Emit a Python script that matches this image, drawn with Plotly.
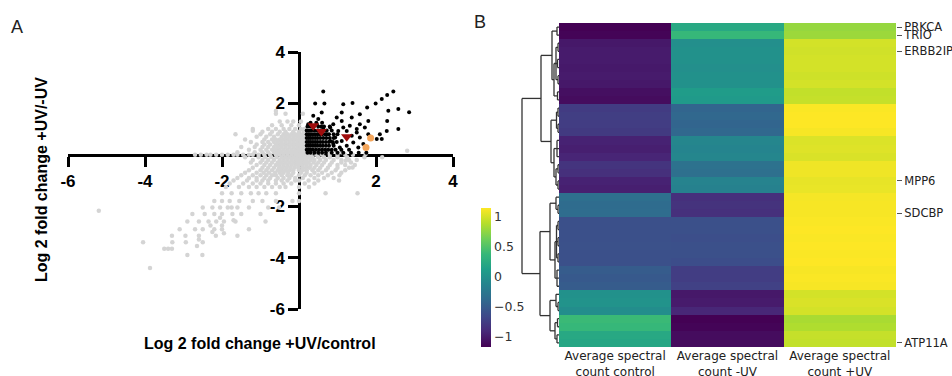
import plotly.graph_objects as go

# ---------------- Panel A data (log2 fold changes) ----------------
grey_row_y = [1.6, 1.3, 1.0, 0.8, 0.6, 0.4, 0.2, 0.0, -0.2, -0.4, -0.6, -0.8, -1.0,
              -1.25, -1.5, -1.8, -2.05, -2.3, -2.6, -2.9, -3.15, -3.4, -3.66, -3.9, -4.4]
grey_row_x = [
    [-0.6, -0.35, 0.1],
    [-0.5, -0.3, -0.15, 0.05],
    [-1.2, -0.8, -0.6, -0.4, -0.25, -0.1, 0.05, 0.15],
    [-1.65, -1.0, -0.75, -0.55, -0.4, -0.3, -0.2, -0.1, 0.0, 0.1, 0.2],
    [-1.4, -0.9, -0.7, -0.6, -0.5, -0.4, -0.3, -0.2, -0.1, 0.0, 0.1, 0.2, 0.3],
    [-1.1, -0.9, -0.75, -0.6, -0.5, -0.4, -0.3, -0.2, -0.1, 0.0, 0.1, 0.2, 0.3, 0.45],
    [-1.3, -1.0, -0.85, -0.7, -0.6, -0.5, -0.4, -0.3, -0.2, -0.1, 0.0, 0.1, 0.2, 0.35, 0.5, 0.7],
    [-2.7, -2.55, -2.4, -2.3, -2.15, -2.0, -1.85, -1.7, -1.6, -1.45, -1.3, -1.2, -1.05, -0.9,
     -0.75, -0.6, -0.5, -0.4, -0.3, -0.2, -0.1, 0.0, 0.1, 0.2, 0.3, 0.45, 0.6, 0.8, 1.0, 1.2, 1.4],
    [-1.2, -0.95, -0.8, -0.65, -0.5, -0.4, -0.3, -0.2, -0.1, 0.0, 0.1, 0.2, 0.3, 0.4, 0.55, 0.7,
     0.9, 1.1, 1.3, 1.5],
    [-1.1, -0.9, -0.75, -0.6, -0.5, -0.4, -0.3, -0.2, -0.1, 0.0, 0.1, 0.2, 0.3, 0.45, 0.6, 0.8,
     1.0, 1.2, 1.45],
    [-1.3, -1.0, -0.85, -0.7, -0.55, -0.45, -0.35, -0.25, -0.15, 0.0, 0.1, 0.2, 0.35, 0.5, 0.7,
     0.95, 1.2],
    [-1.5, -1.2, -1.0, -0.85, -0.7, -0.6, -0.45, -0.3, -0.2, 0.0, 0.15, 0.3, 0.5, 0.75, 1.05],
    [-1.7, -1.35, -1.1, -0.95, -0.8, -0.6, -0.45, -0.3, -0.1, 0.0, 0.25, 0.5, 1.04],
    [-1.9, -1.56, -1.3, -1.1, -0.9, -0.7, -0.5, -0.35, 0.0, 0.26],
    [-2.0, -1.75, -1.5, -1.25, -1.05, -0.85, -0.6, 0.0, 0.69, 1.52],
    [-2.2, -2.0, -1.8, -1.55, -1.2, -0.95, -0.6, -0.17, 0.0],
    [-2.5, -2.25, -2.05, -1.85, -1.6, -1.3, -0.8, -0.52],
    [-2.77, -2.45, -2.2, -2.0, -1.73, -1.5, -1.0],
    [-2.9, -2.6, -2.35, -2.15, -1.95, -1.65, -0.87],
    [-3.1, -2.7, -2.5, -2.2, -2.0, -1.3],
    [-3.3, -2.95, -2.6, -2.16, -1.6],
    [-4.05, -3.29, -2.94, -2.5],
    [-3.5, -3.4, -3.3],
    [-2.51, -2.9],
    [-3.87],
]
# dense core of the grey cloud (between the rows above)
grey_core_y = [1.15, 0.9, 0.7, 0.5, 0.3, 0.1, -0.1, -0.3, -0.5, -0.7, -0.9, -1.12]
grey_core_x = [
    [-0.7, -0.45, -0.2, 0.0],
    [-0.95, -0.7, -0.5, -0.35, -0.15, 0.0, 0.12],
    [-1.1, -0.85, -0.65, -0.45, -0.35, -0.25, -0.15, -0.05, 0.05, 0.15, 0.25],
    [-1.25, -0.95, -0.8, -0.65, -0.55, -0.45, -0.35, -0.25, -0.15, -0.05, 0.05, 0.15, 0.25, 0.4],
    [-1.5, -1.15, -0.95, -0.8, -0.65, -0.55, -0.45, -0.35, -0.25, -0.15, -0.05, 0.05, 0.15, 0.25,
     0.4, 0.6],
    [-1.6, -1.15, -0.95, -0.8, -0.65, -0.55, -0.45, -0.35, -0.25, -0.15, -0.05, 0.05, 0.15, 0.25,
     0.4, 0.55, 0.8, 1.1],
    [-1.4, -1.05, -0.88, -0.72, -0.58, -0.45, -0.35, -0.25, -0.15, -0.05, 0.05, 0.15, 0.25, 0.35,
     0.5, 0.65, 0.8, 1.0, 1.25, 1.7],
    [-1.25, -1.0, -0.85, -0.7, -0.55, -0.45, -0.35, -0.25, -0.15, -0.05, 0.05, 0.15, 0.25, 0.38,
     0.5, 0.65, 0.85, 1.1, 1.35],
    [-1.2, -0.95, -0.8, -0.65, -0.52, -0.42, -0.32, -0.22, -0.12, -0.02, 0.08, 0.18, 0.28, 0.4,
     0.55, 0.75, 1.0, 1.3],
    [-1.4, -1.1, -0.92, -0.78, -0.62, -0.5, -0.4, -0.28, -0.15, 0.05, 0.2, 0.4, 0.6, 0.85, 1.1],
    [-1.6, -1.3, -1.1, -0.9, -0.75, -0.55, -0.4, -0.25, -0.1, 0.1, 0.4, 0.65, 0.9],
    [-1.8, -1.45, -1.2, -1.0, -0.8, -0.6, -0.4, -0.2, 0.15, 0.4],
]
grey_extra_x = [-5.2, 2.81, 2.16, 1.73, 1.39, 1.21, -1.2, -0.6, -2.05, -2.0, -1.95, -2.3, -2.25,
                -1.7, -1.75, -2.6, -2.65]
grey_extra_y = [-2.18, 0.16, -0.1, 0.03, -0.49, -0.23, 0.94, 1.7, -2.45, -2.75, -3.05, -2.75,
                -3.0, -2.55, -2.05, -3.3, -3.55]

black_row_y = [1.25, 1.1, 0.95, 0.8, 0.65, 0.5, 0.35, 0.2, 0.08]
black_row_x = [
    [0.3, 0.45, 0.6],
    [0.22, 0.3, 0.38, 0.5, 0.58, 0.65, 0.8],
    [0.2, 0.26, 0.32, 0.4, 0.48, 0.56, 0.64, 0.72, 0.85],
    [0.2, 0.25, 0.3, 0.36, 0.42, 0.48, 0.54, 0.6, 0.68, 0.78, 0.9, 1.0],
    [0.2, 0.25, 0.3, 0.36, 0.42, 0.48, 0.55, 0.63, 0.71, 0.8, 0.9],
    [0.2, 0.25, 0.3, 0.36, 0.42, 0.48, 0.55, 0.62, 0.7, 0.78, 0.88, 0.98],
    [0.2, 0.25, 0.3, 0.36, 0.42, 0.48, 0.55, 0.62, 0.7, 0.78, 0.9],
    [0.2, 0.25, 0.3, 0.36, 0.44, 0.52, 0.6, 0.68, 0.76, 0.85, 0.95, 1.1, 1.3],
    [0.22, 0.3, 0.4, 0.5, 0.6, 0.7, 0.85, 1.0, 1.15, 1.35, 1.55, 1.75],
]
black_sparse_x = [0.63, 0.42, 0.66, 1.15, 1.39, 1.77, 1.99, 2.15, 2.29, 2.45, 2.32, 2.58, 2.86,
                  2.29, 2.58, 2.28, 2.10, 2.15, 2.02, 1.58, 1.80, 1.58, 1.37, 1.11, 1.11, 0.98,
                  0.89, 1.15, 1.32, 1.50, 1.71, 1.80, 1.58, 1.67, 1.54, 1.41, 1.37, 1.50, 1.24,
                  1.02, 0.94, 1.11, 1.24, 1.06, 0.89, 0.81, 0.72, 0.63, 0.81, 0.50, 0.37, 0.59,
                  0.46, 0.24]
black_sparse_y = [2.46, 2.00, 2.00, 1.97, 2.02, 1.84, 2.00, 2.17, 2.33, 2.46, 1.71, 1.78, 1.66,
                  1.32, 1.00, 0.93, 0.80, 0.61, 0.61, 1.58, 1.32, 1.19, 1.45, 1.65, 1.32, 1.45,
                  1.19, 1.06, 1.13, 1.00, 1.06, 0.80, 0.67, 0.42, 0.28, 0.48, 0.74, 0.87, 0.93,
                  0.93, 0.67, 0.54, 0.35, 0.28, 0.42, 0.54, 0.80, 1.00, 1.06, 1.39, 1.52, 1.65,
                  1.19, 1.19]
red_x = [0.37, 0.58, 1.24]
red_y = [1.13, 0.91, 0.70]
orange_x = [1.86, 1.74]
orange_y = [0.65, 0.28]

axis_ticks = [-6, -4, -2, 2, 4]
axis_tick_text = ["-6", "-4", "-2", "2", "4"]

# ---------------- Panel B data (z-scored spectral counts) ----------------
conditions = ["Average spectral<br>count control", "Average spectral<br>count -UV",
              "Average spectral<br>count +UV"]
control = [-1.17, -1.15,
           -1.02, -1.00, -1.00, -1.01, -1.00, -1.02,
           -1.08, -1.10,
           -0.76, -0.74, -0.75, -0.77,
           -0.95, -0.97, -0.93,
           -0.82, -0.85,
           -0.95, -0.97,
           -0.33, -0.36, -0.35,
           -0.60, -0.60, -0.60, -0.59, -0.60, -0.60,
           -0.50, -0.52, -0.50,
           0.00, 0.02, -0.04,
           0.40, 0.38,
           0.22, 0.20]
minus_uv = [0.22, 0.38,
            -0.02, 0.00, 0.00, -0.02, 0.00, 0.00,
            0.10, 0.08,
            -0.42, -0.40, -0.42, -0.40,
            -0.10, -0.12, -0.10,
            -0.30, -0.32,
            -0.13, -0.15,
            -0.85, -0.83, -0.85,
            -0.60, -0.60, -0.61, -0.60, -0.60, -0.62,
            -0.75, -0.75, -0.72,
            -1.02, -1.00, -0.92,
            -1.17, -1.15,
            -1.10, -1.10]
plus_uv = [0.78, 0.80,
           1.00, 0.99, 1.00, 1.00, 0.98, 1.00,
           0.94, 0.95,
           1.14, 1.15, 1.15, 1.13,
           1.03, 1.04, 1.02,
           1.10, 1.10,
           1.07, 1.08,
           1.12, 1.13, 1.13,
           1.14, 1.15, 1.14, 1.15, 1.14, 1.15,
           1.13, 1.14, 1.13,
           1.00, 1.02, 1.00,
           0.85, 0.87,
           0.95, 0.94]
label_rows = [0, 1, 3, 19, 23, 39]
label_text = ["PRKCA", "TRIO", "ERBB2IP", "MPP6", "SDCBP", "ATP11A"]
cbar_ticks = [-1, -0.5, 0, 0.5, 1]

# dendrogram: (merge height, [children]); ints are heatmap rows
dendro_tree = (37, [
    (18, [
        (7, [(2, [0, 1]),
             (5, [(3, [(1, [2, 3]), (1.5, [4, 5]), (1, [6, 7])]), (1.5, [8, 9])])]),
        (8, [(2.5, [(1, [10, 11]), (1, [12, 13])]),
             (5, [(2, [14, 15, 16]), (3, [(1, [17, 18]), (1, [19, 20])])])]),
    ]),
    (19, [
        (9, [(3, [21, (1, [22, 23])]),
             (4, [(2.5, [(1, [24, 25]), (1, [26, 27]), (1, [28, 29])]), (2, [30, 31, 32])])]),
        (9, [(3, [33, (1, [34, 35])]), (4, [(1.5, [36, 37]), (2, [38, 39])])]),
    ]),
])

# ---------------- build ----------------
W, H = 952, 376


def px(x):
    return x / W


def py(y):
    return 1 - y / H


def flatten(rows_y, rows_x):
    xs, ys = [], []
    for yv, xl in zip(rows_y, rows_x):
        for xv in xl:
            xs.append(xv)
            ys.append(yv)
    return xs, ys


gx, gy = flatten(grey_row_y, grey_row_x)
cx, cy = flatten(grey_core_y, grey_core_x)
gx += cx + grey_extra_x
gy += cy + grey_extra_y
bx, by = flatten(black_row_y, black_row_x)
bx += black_sparse_x
by += black_sparse_y

fig = go.Figure()
fig.add_trace(go.Scatter(x=gx, y=gy, mode="markers", xaxis="x", yaxis="y",
                         marker=dict(size=4.5, color="#d4d4d4")))
fig.add_trace(go.Scatter(x=bx, y=by, mode="markers", xaxis="x", yaxis="y",
                         marker=dict(size=4, color="#000000")))
fig.add_trace(go.Scatter(x=red_x, y=red_y, mode="markers", xaxis="x", yaxis="y",
                         marker=dict(size=10, color="#a00d0d", symbol="triangle-down")))
fig.add_trace(go.Scatter(x=orange_x, y=orange_y, mode="markers", xaxis="x", yaxis="y",
                         marker=dict(size=7, color="#f4a55a")))

# heatmap
z = [[c, m, p] for c, m, p in zip(control, minus_uv, plus_uv)]
fig.add_trace(go.Heatmap(
    z=z, x=[0, 1, 2], y=list(range(len(control))), xaxis="x2", yaxis="y2",
    colorscale="Viridis", zmin=-1.17, zmax=1.15,
    colorbar=dict(x=px(481), xanchor="left", xpad=0, y=py(347), yanchor="bottom", ypad=0,
                  len=139 / H, lenmode="fraction", thickness=10, thicknessmode="pixels",
                  outlinewidth=0, tickvals=cbar_ticks, ticks="",
                  tickfont=dict(family="DejaVu Sans", size=12.5, color="#333333")),
))

# dendrogram lines
dx, dy = [], []


def walk(node):
    if isinstance(node, int):
        return node, 0.0
    h, children = node
    pts = [walk(c) for c in children]
    ys = [p[0] for p in pts]
    for cyy, ch in pts:
        dx.extend([ch, h, None])
        dy.extend([cyy, cyy, None])
    dx.extend([h, h, None])
    dy.extend([min(ys), max(ys), None])
    return sum(ys) / len(ys), h


walk(dendro_tree)
fig.add_trace(go.Scatter(x=dx, y=dy, mode="lines", xaxis="x3", yaxis="y3",
                         line=dict(color="#333333", width=1.3)))

n = len(control)
axA = dict(showgrid=False, zeroline=False, showline=True, linecolor="black", linewidth=2.5,
           ticks="outside", ticklen=10, tickwidth=2.5, tickcolor="black",
           tickvals=axis_ticks, ticktext=axis_tick_text, range=[-6, 4],
           tickfont=dict(family="Liberation Sans", size=17, color="black", weight="bold"),
           layer="below traces", anchor="free")
ydomA = [py(309), py(52)]
xdomA = [px(68), px(453)]
ann_common = dict(xref="paper", yref="paper", showarrow=False, xanchor="center",
                  yanchor="middle")
fig.update_layout(
    width=W, height=H, margin=dict(l=0, r=0, t=0, b=0, autoexpand=False),
    paper_bgcolor="white", plot_bgcolor="white", showlegend=False,
    xaxis=dict(axA, domain=xdomA, position=ydomA[0] + 0.6 * (ydomA[1] - ydomA[0])),
    yaxis=dict(axA, domain=ydomA, position=xdomA[0] + 0.6 * (xdomA[1] - xdomA[0])),
    xaxis2=dict(domain=[px(559), px(896)], anchor="y2", range=[-0.5, 2.5],
                tickvals=[0, 1, 2], ticktext=conditions, ticks="", showgrid=False,
                zeroline=False, showline=False,
                tickfont=dict(family="DejaVu Sans", size=12, color="#222222")),
    yaxis2=dict(domain=[py(347), py(23)], anchor="x2", side="right", range=[n - 0.5, -0.5],
                tickvals=label_rows, ticktext=label_text, ticks="outside", ticklen=5,
                tickcolor="#555555", showgrid=False, zeroline=False,
                tickfont=dict(family="DejaVu Sans", size=11.5, color="#222222")),
    xaxis3=dict(domain=[px(515), px(559)], anchor="y3", range=[44, 0], visible=False),
    yaxis3=dict(domain=[py(347), py(23)], anchor="x3", range=[n - 0.5, -0.5], visible=False),
    annotations=[
        dict(ann_common, text="A", x=px(17), y=py(27),
             font=dict(family="Liberation Sans", size=18, color="#222222")),
        dict(ann_common, text="B", x=px(480), y=py(22),
             font=dict(family="Liberation Sans", size=18, color="#222222")),
        dict(ann_common, text="Log 2 fold change +UV/control", x=px(260), y=py(343),
             font=dict(family="Liberation Sans", size=16, color="black", weight="bold")),
        dict(ann_common, text="Log 2 fold change +UV/-UV", x=px(41), y=py(180), textangle=-90,
             font=dict(family="Liberation Sans", size=16, color="black", weight="bold")),
    ],
)

fig.write_html("out.html", config={"displayModeBar": False},
               post_script="document.body.style.margin='0px';"
                           "document.body.style.overflow='hidden';")
